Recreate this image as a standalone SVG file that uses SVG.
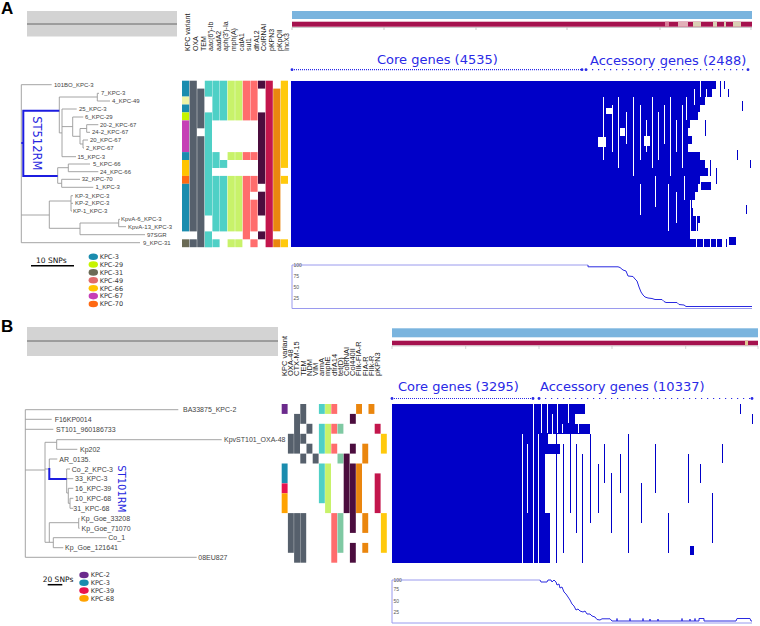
<svg xmlns="http://www.w3.org/2000/svg" width="760" height="626" viewBox="0 0 760 626">
<style>
.lbl{font-family:"Liberation Sans",Arial,sans-serif;font-size:6px;fill:#444}
.lblB{font-family:"Liberation Sans",Arial,sans-serif;font-size:7px;fill:#444}
.hdr{font-family:"Liberation Sans",Arial,sans-serif;font-size:7px;fill:#222}
.hdrB{font-family:"Liberation Sans",Arial,sans-serif;font-size:7.5px;fill:#222}
.br{fill:none;stroke:#9a9a9a;stroke-width:0.9}
.rm{fill:none;stroke:#1c1ce0;stroke-width:2}
.rmt{font-family:"DejaVu Sans",Verdana,sans-serif;fill:#2626e0}
.sec{font-family:"DejaVu Sans",Verdana,sans-serif;font-size:13px;fill:#2a2ae6}
.leg{font-family:"DejaVu Sans",Verdana,sans-serif;font-size:6.5px;fill:#333}
.snp{font-family:"DejaVu Sans",Verdana,sans-serif;font-size:7.5px;fill:#111}
.panel{font-family:"Liberation Sans",Arial,sans-serif;font-size:17px;font-weight:bold;fill:#000}
.ax{font-family:"Liberation Sans",Arial,sans-serif;font-size:5px;fill:#555}
.hm{fill:#0000c8}
.wl{stroke:#fff;fill:none}
.bl{stroke:#0000c8;fill:none}
.gbox{fill:#d3d3d3}
.k3{fill:#1a8cae}.k29{fill:#c6f400}.k31{fill:#6a6a55}.k49{fill:#e06a6a}.k49p{fill:#eef3a6}.k66{fill:#ffc400}.k67{fill:#c63fb6}.k70{fill:#ff6912}
.gy{fill:#56606c}.tl{fill:#4fd0c6}.lm{fill:#c8f26a}.sa{fill:#ff6d6d}.dp{fill:#4b0d3e}.cr{fill:#c3164c}.or{fill:#ea860e}.ye{fill:#ffc90c}.gt{fill:#7fc9a3}
.k2{fill:#6b2a8c}.k39{fill:#e8124e}.k68{fill:#ffa200}
.lb{fill:#7ab4de}.cb{fill:#a5124e}
.frame{fill:none;stroke:#9a9aee;stroke-width:1}
.curve{fill:none;stroke:#2a2ae0;stroke-width:1}
</style>
<rect width="760" height="626" fill="#fff"/>

<!-- ================= PANEL A ================= -->
<text class="panel" x="1" y="14">A</text>
<g id="A-treebox">
<rect class="gbox" x="27" y="11" width="150" height="25.5"/>
<line x1="27" y1="24" x2="177" y2="24" stroke="#666" stroke-width="1"/>
</g>

<g id="A-headers" class="hdr">
<text transform="translate(190.3,51) rotate(-90)">KPC variant</text>
<text transform="translate(197.9,51) rotate(-90)">OXA</text>
<text transform="translate(205.5,51) rotate(-90)">TEM</text>
<text transform="translate(213.1,51) rotate(-90)">aac(6')-Ib</text>
<text transform="translate(220.7,51) rotate(-90)">aadA2</text>
<text transform="translate(228.3,51) rotate(-90)">aph(3')-Ia</text>
<text transform="translate(235.9,51) rotate(-90)">mph(A)</text>
<text transform="translate(243.5,51) rotate(-90)">catA1</text>
<text transform="translate(251.1,51) rotate(-90)">sul1</text>
<text transform="translate(258.7,51) rotate(-90)">dfrA12</text>
<text transform="translate(266.3,51) rotate(-90)">ColRNAI</text>
<text transform="translate(273.9,51) rotate(-90)">pKPN3</text>
<text transform="translate(281.5,51) rotate(-90)">pKpQIl</text>
<text transform="translate(289.1,51) rotate(-90)">IncX3</text>
</g>

<g id="A-bars">
<rect class="lb" x="292" y="11" width="460" height="8"/>
<rect class="cb" x="292" y="21.7" width="460" height="5"/>
<rect x="665" y="21.7" width="4" height="5" fill="#d77a96"/>
<rect x="678" y="21.7" width="10" height="5" fill="#e2b0b8"/>
<rect x="693" y="21.7" width="8" height="5" fill="#d9d0b4"/>
<rect x="713" y="21.7" width="4" height="5" fill="#d9d0b4"/>
<rect x="724" y="21.7" width="2" height="5" fill="#d9d0b4"/>
<rect x="733" y="21.7" width="8" height="5" fill="#d9d0b4"/>
<path d="M292 27.5H752M292 27.5V30M384 27.5V30M476 27.5V30M567 27.5V30M660 27.5V30M751 27.5V30" stroke="#aaa" stroke-width="0.6" fill="none"/>
</g>

<g id="A-sections">
<text class="sec" x="377" y="64">Core genes (4535)</text>
<text class="sec" x="590" y="65">Accessory genes (2488)</text>
<line x1="292" y1="69.7" x2="582" y2="69.7" stroke="#2a2ae6" stroke-width="1.2" stroke-dasharray="1 1"/>
<line x1="586" y1="69.7" x2="748" y2="69.7" stroke="#2a2ae6" stroke-width="1.2" stroke-dasharray="1.2 4.8"/>
<circle cx="292" cy="69.7" r="1.4" fill="#2a2ae6"/><circle cx="582" cy="69.7" r="1.4" fill="#2a2ae6"/>
<circle cx="586" cy="69.7" r="1.4" fill="#2a2ae6"/><circle cx="748" cy="69.7" r="1.4" fill="#2a2ae6"/>
</g>

<g id="A-tree">
<path class="br" d="M21.3 84.7V242.7M21.3 84.7H51.7
M59.3 97V132.9M59.3 97H97.3M97.3 93.3V101M97.3 93.3H99M97.3 101H110
M59.3 132.9H62M62 109V156.7M62 109H76.7M62 156.7H76M62 126.6H72.7M72.7 117V136.3M72.7 117H83.3M72.7 136.3H80
M80 128.5V144M80 128.5H86.7M86.7 124.7V132.3M86.7 124.7H98.3M86.7 132.3H90M80 144H83M83 140V148M83 140H88M83 148H84
M57.7 167.7V183.3M57.7 167.7H68.3M68.3 164V171.7M68.3 164H90M68.3 171.7H98.3M57.7 183.3H61.7M61.7 179.3V187.3M61.7 179.3H80M61.7 187.3H93.3
M21.3 215H49.3M49.3 201V228.3M49.3 201H71M71 195.7V211M71 195.7H73M71 203.3H73M71 211H72
M49.3 228.3H80M80 223V234.7M80 223H118.7M118.7 219.3V226.7M118.7 219.3H120M118.7 226.7H126M80 234.7H145
M21.3 242.7H140"/>
<path class="rm" d="M21.3 143H23.3M59.3 110.7H23.3V176H57.7"/>
<text class="rmt" font-size="11.5" text-anchor="middle" transform="translate(32.5,143.3) rotate(90)">ST512RM</text>
</g>

<g id="A-taxa" class="lbl">
<text x="54" y="86.8">101BO_KPC-3</text>
<text x="101" y="95.4">7_KPC-3</text>
<text x="112" y="103.1">4_KPC-49</text>
<text x="79" y="111.1">25_KPC-3</text>
<text x="85" y="119.1">6_KPC-29</text>
<text x="100" y="126.8">20-2_KPC-67</text>
<text x="92" y="134.4">24-2_KPC-67</text>
<text x="90" y="142.1">20_KPC-67</text>
<text x="86" y="150.1">2_KPC-67</text>
<text x="77.5" y="158.8">15_KPC-3</text>
<text x="93" y="166.1">5_KPC-66</text>
<text x="100" y="173.8">24_KPC-66</text>
<text x="81.7" y="181.4">32_KPC-70</text>
<text x="95.5" y="189.4">1_KPC-3</text>
<text x="75" y="197.8">KP-3_KPC-3</text>
<text x="75" y="205.4">KP-2_KPC-3</text>
<text x="73" y="213.1">KP-1_KPC-3</text>
<text x="121" y="221.4">KpvA-6_KPC-3</text>
<text x="128" y="228.8">KpvA-13_KPC-3</text>
<text x="147" y="236.8">97SGR</text>
<text x="143" y="244.8">9_KPC-31</text>
</g>

<g id="A-genes">
<rect class="k3" x="182" y="80.7" width="7.2" height="15.9"/>
<rect class="k49p" x="182" y="96.6" width="7.2" height="7.9"/>
<rect class="k3" x="182" y="104.5" width="7.2" height="7.9"/>
<rect class="k29" x="182" y="112.4" width="7.2" height="7.9"/>
<rect class="k67" x="182" y="120.4" width="7.2" height="31.7"/>
<rect class="k3" x="182" y="152.1" width="7.2" height="7.9"/>
<rect class="k66" x="182" y="160" width="7.2" height="15.9"/>
<rect class="k70" x="182" y="175.9" width="7.2" height="7.9"/>
<rect class="k3" x="182" y="183.8" width="7.2" height="47.6"/>
<rect class="k31" x="182" y="239.3" width="7.2" height="7.9"/>

<rect class="gy" x="189.6" y="80.7" width="7.2" height="150.7"/>
<rect class="gy" x="189.6" y="239.3" width="7.2" height="7.9"/>
<rect class="gy" x="197.2" y="88.6" width="7.2" height="39.7"/>
<rect class="gy" x="197.2" y="136.2" width="7.2" height="111"/>

<rect class="tl" x="204.8" y="80.7" width="7.2" height="15.9"/>
<rect class="tl" x="204.8" y="112.4" width="7.2" height="103.1"/>
<rect class="tl" x="204.8" y="231.4" width="7.2" height="15.9"/>
<rect class="tl" x="212.4" y="80.7" width="7.2" height="39.7"/>
<rect class="tl" x="212.4" y="152.1" width="7.2" height="15.9"/>
<rect class="tl" x="212.4" y="175.9" width="7.2" height="55.5"/>
<rect class="tl" x="212.4" y="239.3" width="7.2" height="7.9"/>
<rect class="tl" x="220" y="80.7" width="7.2" height="39.7"/>
<rect class="tl" x="220" y="160" width="7.2" height="7.9"/>
<rect class="tl" x="220" y="175.9" width="7.2" height="55.5"/>

<rect class="lm" x="227.6" y="80.7" width="7.2" height="39.7"/>
<rect class="lm" x="227.6" y="152.1" width="7.2" height="7.9"/>
<rect class="lm" x="227.6" y="175.9" width="7.2" height="55.5"/>
<rect class="lm" x="227.6" y="239.3" width="7.2" height="7.9"/>
<rect class="lm" x="235.2" y="80.7" width="7.2" height="39.7"/>
<rect class="lm" x="235.2" y="152.1" width="7.2" height="7.9"/>
<rect class="lm" x="235.2" y="175.9" width="7.2" height="55.5"/>
<rect class="lm" x="235.2" y="239.3" width="7.2" height="7.9"/>

<rect class="sa" x="242.8" y="80.7" width="7.2" height="39.7"/>
<rect class="sa" x="242.8" y="152.1" width="7.2" height="7.9"/>
<rect class="sa" x="242.8" y="175.9" width="7.2" height="63.4"/>
<rect class="sa" x="250.4" y="80.7" width="7.2" height="39.7"/>
<rect class="sa" x="250.4" y="152.1" width="7.2" height="7.9"/>
<rect class="sa" x="250.4" y="175.9" width="7.2" height="15.9"/>
<rect class="sa" x="250.4" y="199.7" width="7.2" height="31.7"/>
<rect class="sa" x="250.4" y="239.3" width="7.2" height="7.9"/>

<rect class="dp" x="258" y="80.7" width="7.2" height="7.9"/>
<rect class="dp" x="258" y="112.4" width="7.2" height="71.4"/>
<rect class="dp" x="258" y="191.7" width="7.2" height="23.8"/>
<rect class="dp" x="258" y="231.4" width="7.2" height="7.9"/>

<rect class="cr" x="265.6" y="80.7" width="7.2" height="166.5"/>
<rect class="or" x="273.2" y="88.6" width="7.2" height="142.7"/>
<rect class="or" x="273.2" y="239.3" width="7.2" height="7.9"/>
<rect class="ye" x="280.8" y="80.7" width="7.2" height="87.2"/>
<rect class="ye" x="280.8" y="175.9" width="7.2" height="7.9"/>
<rect class="ye" x="280.8" y="239.3" width="7.2" height="7.9"/>
</g>

<g id="A-heatmap" shape-rendering="crispEdges">
<rect class="hm" x="291" y="80.7" width="299" height="166.5"/>
<rect class="hm" x="590" y="80.7" width="126" height="7.9"/>
<rect class="hm" x="590" y="88.6" width="122" height="7.9"/>
<rect class="hm" x="590" y="96.6" width="115" height="7.9"/>
<rect class="hm" x="590" y="104.5" width="110" height="7.9"/>
<rect class="hm" x="590" y="112.4" width="108" height="7.9"/>
<rect class="hm" x="590" y="120.4" width="100" height="7.9"/>
<rect class="hm" x="590" y="128.3" width="98" height="7.9"/>
<rect class="hm" x="590" y="136.2" width="102" height="7.9"/>
<rect class="hm" x="590" y="144.1" width="98" height="7.9"/>
<rect class="hm" x="590" y="152.1" width="110" height="7.9"/>
<rect class="hm" x="590" y="160" width="115" height="7.9"/>
<rect class="hm" x="590" y="167.9" width="118" height="7.9"/>
<rect class="hm" x="590" y="175.9" width="110" height="7.9"/>
<rect class="hm" x="590" y="183.8" width="108" height="7.9"/>
<rect class="hm" x="590" y="191.7" width="105" height="7.9"/>
<rect class="hm" x="590" y="199.7" width="102" height="7.9"/>
<rect class="hm" x="590" y="207.6" width="103" height="7.9"/>
<rect class="hm" x="590" y="215.5" width="110" height="7.9"/>
<rect class="hm" x="590" y="223.4" width="108" height="7.9"/>
<rect class="hm" x="590" y="231.4" width="100" height="7.9"/>
<rect class="hm" x="590" y="239.3" width="132" height="7.9"/>
<path class="wl" stroke-width="1" d="M603.5 96.6V160M612.5 104.5V152M618.5 96.6V168M626.5 112.4V144M633.5 96.6V175.9M640.5 104.5V160M646.5 120.4V152M652.5 96.6V168M658.5 112.4V160M664.5 104.5V144M670.5 96.6V176M676.5 120.4V152M682.5 104.5V168M686.5 96.6V120M694.5 88.6V104.5M700.5 80.7V96.6M706.5 88.6V104.5
M640.5 183.8V215M655.5 175.9V207M668.5 183.8V231M676.5 191.7V223M684.5 175.9V200M690.5 199.7V239M696.5 215.5V247M703.5 239.3V247M710.5 239.3V247M716.5 239.3V247"/>
<rect x="598" y="136.7" width="8" height="10" fill="#fff"/>
<rect x="606" y="108" width="6" height="6" fill="#fff"/>
<rect x="620" y="128" width="5" height="8" fill="#fff"/>
<rect x="644" y="136" width="6" height="10" fill="#fff"/>
<path class="bl" stroke-width="1" d="M720.5 80.7V96.6M724.5 80.7V88.6M728.5 88.6V96.6M705.5 120.4V136M710.5 160V176M716.5 167.9V184M742.5 101V111M737.5 150V160M746.5 205V214M726.5 239.3V247M750.5 160V168"/>
<rect class="hm" x="701" y="182" width="10" height="8"/>
<rect class="hm" x="729" y="237" width="7" height="8"/>
</g>

<g id="A-legend">
<line x1="31" y1="265.7" x2="74" y2="265.7" stroke="#000" stroke-width="1.5"/>
<text class="snp" x="36" y="262.7">10 SNPs</text>
<ellipse class="k3" cx="93.3" cy="256.7" rx="4.7" ry="3.3"/>
<ellipse class="k29" cx="93.3" cy="264.5" rx="4.7" ry="3.3"/>
<ellipse class="k31" cx="93.3" cy="272.4" rx="4.7" ry="3.3"/>
<ellipse class="k49" cx="93.3" cy="280.3" rx="4.7" ry="3.3"/>
<ellipse class="k66" cx="93.3" cy="288.2" rx="4.7" ry="3.3"/>
<ellipse class="k67" cx="93.3" cy="296.1" rx="4.7" ry="3.3"/>
<ellipse class="k70" cx="93.3" cy="304" rx="4.7" ry="3.3"/>
<g class="leg">
<text x="99.7" y="259">KPC-3</text>
<text x="99.7" y="266.8">KPC-29</text>
<text x="99.7" y="274.7">KPC-31</text>
<text x="99.7" y="282.6">KPC-49</text>
<text x="99.7" y="290.5">KPC-66</text>
<text x="99.7" y="298.4">KPC-67</text>
<text x="99.7" y="306.3">KPC-70</text>
</g>
</g>

<g id="A-plot">
<path class="frame" d="M292 265V308.5H752"/>
<path class="frame" d="M292 265H588"/>
<path class="curve" d="M588 265V266.8H618L620 267.5L623 270L626 271L628 276L633 276.5L635 279L637 281L639 287L641 292L643 295L645 297L648 298L652 298.5L655 299.5L662 299.5L664 301.5L666 302.5L677 302.5L679 304.5L684 305L686 306.5L752 306.5"/>
<g class="ax">
<text x="293.5" y="266.8">100</text>
<text x="293.5" y="277.8">75</text>
<text x="293.5" y="288.8">50</text>
<text x="293.5" y="299.8">25</text>
</g>
</g>

<!-- ================= PANEL B ================= -->
<text class="panel" x="1" y="332">B</text>
<g id="B-treebox">
<rect class="gbox" x="27" y="327" width="251" height="29"/>
<line x1="27" y1="341" x2="278" y2="341" stroke="#666" stroke-width="1"/>
</g>

<g id="B-headers" class="hdrB">
<text transform="translate(287,376) rotate(-90)">KPC variant</text>
<text transform="translate(293.2,376) rotate(-90)">OXA-48</text>
<text transform="translate(299.4,376) rotate(-90)">CTX-M-15</text>
<text transform="translate(305.6,376) rotate(-90)">TEM</text>
<text transform="translate(311.8,376) rotate(-90)">NDM</text>
<text transform="translate(318,376) rotate(-90)">VIM</text>
<text transform="translate(324.2,376) rotate(-90)">armA</text>
<text transform="translate(330.4,376) rotate(-90)">mphE</text>
<text transform="translate(336.6,376) rotate(-90)">dfrA14</text>
<text transform="translate(342.8,376) rotate(-90)">tet(D)</text>
<text transform="translate(349,376) rotate(-90)">ColRNAI</text>
<text transform="translate(355.2,376) rotate(-90)">Col440II</text>
<text transform="translate(361.4,376) rotate(-90)">FIIk-FIA-R</text>
<text transform="translate(367.6,376) rotate(-90)">FIA-R</text>
<text transform="translate(373.8,376) rotate(-90)">FIIk-R</text>
<text transform="translate(380,376) rotate(-90)">pKPN3</text>
</g>

<g id="B-bars">
<rect class="lb" x="392" y="328.3" width="366" height="9"/>
<rect class="cb" x="392" y="340.7" width="366" height="4.6"/>
<rect x="745" y="340.7" width="3" height="4.6" fill="#e0c890"/>
<path d="M392 346H758M392 346V349M465.7 346V349M539 346V349M612 346V349M685.7 346V349M758 346V349" stroke="#bbb" stroke-width="0.6" fill="none"/>
</g>

<g id="B-sections">
<text class="sec" x="398" y="391">Core genes (3295)</text>
<text class="sec" x="540" y="391">Accessory genes (10337)</text>
<line x1="392" y1="398.5" x2="533" y2="398.5" stroke="#2a2ae6" stroke-width="1.2" stroke-dasharray="1 1"/>
<line x1="539" y1="398.5" x2="752" y2="398.5" stroke="#2a2ae6" stroke-width="1.2" stroke-dasharray="1.2 4.8"/>
<circle cx="392" cy="398.5" r="1.4" fill="#2a2ae6"/><circle cx="533" cy="398.5" r="1.4" fill="#2a2ae6"/>
<circle cx="539" cy="398.5" r="1.4" fill="#2a2ae6"/><circle cx="752" cy="398.5" r="1.4" fill="#2a2ae6"/>
</g>

<g id="B-tree">
<path class="br" d="M25.3 409.7V557.3M25.3 409.7H178.3M25.3 419.3H51.7M25.3 429.3H53.3
M25.3 470H45M45 442.3V542.3M45 442.3H56.7M56.7 439.7V449.3M56.7 439.7H221.7M56.7 449.3H77.3
M45 469H49.3M49.3 459V468M49.3 459H57.3
M66.7 469V493M66.7 469H70M66.7 478.7H73.3M66.7 493H68.3M68.3 488.3V503.3M68.3 488.3H73.3M68.3 503.3H70M70 498.3V508.3M70 498.3H73.3M70 508.3H73.3
M49.3 522.7V542.3M49.3 522.7H78.7M78.7 518.3V528.3M78.7 518.3H79.5M78.7 528.3H79.5M45 542.3H53.3M53.3 537.7V547.7M53.3 537.7H106.7M53.3 547.7H63.3
M25.3 557.3H196.7"/>
<path class="rm" d="M49.3 468V479H66.7"/>
<text class="rmt" font-size="10" text-anchor="middle" transform="translate(118.2,488.8) rotate(90)">ST101RM</text>
</g>

<g id="B-taxa" class="lblB">
<text x="183" y="412.2">BA33875_KPC-2</text>
<text x="54.7" y="421.8">F16KP0014</text>
<text x="56" y="431.8">ST101_960186733</text>
<text x="224" y="442.2">KpvST101_OXA-48</text>
<text x="80" y="451.8">Kp202</text>
<text x="59.3" y="461.5">AR_0135.</text>
<text x="71.7" y="471.5">Co_2_KPC-3</text>
<text x="75" y="481.2">33_KPC-3</text>
<text x="75" y="490.8">16_KPC-39</text>
<text x="75" y="500.8">10_KPC-68</text>
<text x="73.3" y="510.8">31_KPC-68</text>
<text x="81" y="520.8">Kp_Goe_33208</text>
<text x="81.5" y="530.8">Kp_Goe_71070</text>
<text x="108.3" y="540.2">Co_1</text>
<text x="65" y="550.2">Kp_Goe_121641</text>
<text x="198.3" y="559.8">08EU827</text>
</g>

<g id="B-genes">
<rect class="k2" x="281.7" y="404" width="5.9" height="9.9"/>
<rect class="k3" x="281.7" y="463.5" width="5.9" height="19.8"/>
<rect class="k39" x="281.7" y="483.4" width="5.9" height="9.9"/>
<rect class="k68" x="281.7" y="493.3" width="5.9" height="19.8"/>

<rect class="gy" x="287.9" y="433.8" width="5.9" height="19.8"/>
<rect class="gy" x="287.9" y="513.1" width="5.9" height="39.7"/>
<rect class="gy" x="294.1" y="413.9" width="5.9" height="39.7"/>
<rect class="gy" x="294.1" y="513.1" width="5.9" height="49.6"/>
<rect class="gy" x="300.3" y="404" width="5.9" height="19.8"/>
<rect class="gy" x="300.3" y="433.8" width="5.9" height="9.9"/>
<rect class="gy" x="300.3" y="453.6" width="5.9" height="9.9"/>
<rect class="gy" x="300.3" y="513.1" width="5.9" height="49.6"/>
<rect class="gy" x="306.5" y="423.8" width="5.9" height="9.9"/>
<rect class="gy" x="306.5" y="443.7" width="5.9" height="9.9"/>
<rect class="gy" x="312.7" y="453.6" width="5.9" height="9.9"/>

<rect class="tl" x="318.9" y="404" width="5.9" height="9.9"/>
<rect class="tl" x="318.9" y="423.8" width="5.9" height="29.8"/>
<rect class="tl" x="318.9" y="463.5" width="5.9" height="39.7"/>
<rect class="lm" x="325.1" y="404" width="5.9" height="9.9"/>
<rect class="lm" x="325.1" y="423.8" width="5.9" height="29.8"/>
<rect class="lm" x="325.1" y="463.5" width="5.9" height="49.6"/>
<rect class="sa" x="331.3" y="404" width="5.9" height="9.9"/>
<rect class="sa" x="331.3" y="423.8" width="5.9" height="9.9"/>
<rect class="sa" x="331.3" y="443.7" width="5.9" height="9.9"/>
<rect class="sa" x="331.3" y="513.1" width="5.9" height="49.6"/>
<rect class="gt" x="337.5" y="423.8" width="5.9" height="9.9"/>
<rect class="gt" x="337.5" y="453.6" width="5.9" height="9.9"/>
<rect class="gt" x="337.5" y="513.1" width="5.9" height="39.7"/>

<rect class="dp" x="343.7" y="453.6" width="5.9" height="59.5"/>
<rect class="dp" x="349.9" y="413.9" width="5.9" height="9.9"/>
<rect class="dp" x="349.9" y="443.7" width="5.9" height="9.9"/>
<rect class="dp" x="349.9" y="463.5" width="5.9" height="69.4"/>
<rect class="dp" x="349.9" y="542.9" width="5.9" height="19.8"/>
<rect class="or" x="356.1" y="404" width="5.9" height="9.9"/>
<rect class="or" x="356.1" y="463.5" width="5.9" height="49.6"/>
<rect class="or" x="362.3" y="443.7" width="5.9" height="19.8"/>
<rect class="or" x="362.3" y="513.1" width="5.9" height="19.8"/>
<rect class="or" x="362.3" y="542.9" width="5.9" height="9.9"/>
<rect class="or" x="368.5" y="404" width="5.9" height="9.9"/>
<rect class="cr" x="374.7" y="423.8" width="5.9" height="9.9"/>
<rect class="cr" x="374.7" y="473.4" width="5.9" height="39.7"/>
<rect class="ye" x="380.9" y="433.8" width="5.9" height="19.8"/>
<rect class="ye" x="380.9" y="513.1" width="5.9" height="39.7"/>
</g>

<g id="B-heatmap" shape-rendering="crispEdges">
<rect class="hm" x="392" y="404" width="138" height="158.7"/>
<rect class="hm" x="530" y="404" width="55" height="9.9"/>
<rect class="hm" x="530" y="413.9" width="45" height="9.9"/>
<rect class="hm" x="530" y="423.8" width="60" height="9.9"/>
<rect class="hm" x="530" y="433.8" width="18" height="9.9"/>
<rect class="hm" x="530" y="443.7" width="30" height="9.9"/>
<rect class="hm" x="530" y="453.6" width="15" height="59.5"/>
<rect class="hm" x="530" y="513.1" width="20" height="49.6"/>
<path class="wl" stroke-width="1" d="M522.5 433.8V562.7M527.5 443.7V513M533.5 404V562.7M538.5 433.8V562.7M541.5 404V433M547.5 404V433M552.5 413.9V443M557.5 404V433M562.5 423.8V433M568.5 404V423M578.5 423.8V433"/>
<path class="bl" stroke-width="1" d="M556.5 433.8V562.7M563.5 443.7V553M570.5 433.8V513M576.5 443.7V533M582.5 453.6V562.7M590.5 433.8V523M598.5 463.5V513M604.5 443.7V483M611.5 473.4V533M620.5 453.6V493M628.5 433.8V553M641.5 483.4V523M655.5 443.7V493M668.5 513.1V553M688.5 453.6V503M700.5 463.5V483M712.5 493.3V543M722.5 443.7V463M740.5 404V413.9M752.5 413.9V423.8"/>
<rect class="hm" x="690" y="546" width="4" height="9"/>
</g>

<g id="B-legend">
<line x1="47.7" y1="584.7" x2="62.3" y2="584.7" stroke="#000" stroke-width="1.5"/>
<text class="snp" x="42.7" y="582">20 SNPs</text>
<ellipse class="k2" cx="84" cy="575" rx="4.7" ry="3.3"/>
<ellipse class="k3" cx="84" cy="582.8" rx="4.7" ry="3.3"/>
<ellipse class="k39" cx="84" cy="590.6" rx="4.7" ry="3.3"/>
<ellipse class="k68" cx="84" cy="598.4" rx="4.7" ry="3.3"/>
<g class="leg">
<text x="90.7" y="577.3">KPC-2</text>
<text x="90.7" y="585.1">KPC-3</text>
<text x="90.7" y="592.9">KPC-39</text>
<text x="90.7" y="600.7">KPC-68</text>
</g>
</g>

<g id="B-plot">
<path class="frame" d="M392 580V623H752"/>
<path class="frame" d="M392 580H540"/>
<path class="curve" d="M540 580L541 582L547 582L548 580L551 580L552 582L554 580L556 582L557 585L559 584L560 588L562 587L564 592L566 594L568 597L570 600L572 604L574 606L576 610L578 609L580 611L583 612L585 611L587 614L590 614L592 616L595 617L597 619.5L600 620L602 618.8L610 618.8L612 621L617 621V618.5V621L630 621V618.5V621L643 621V618.5V621L650 621V619V621L658 621V619V621L682 621V618.5V621L690 621V619V621L695 621V618.5V621L699 621V618.5L704 618.5V621L736 621L737 618.5L750 618.5L751 621L752 621"/>
<g class="ax">
<text x="393.5" y="582">100</text>
<text x="393.5" y="591.3">75</text>
<text x="393.5" y="602.7">50</text>
<text x="393.5" y="614">25</text>
</g>
</g>
</svg>
